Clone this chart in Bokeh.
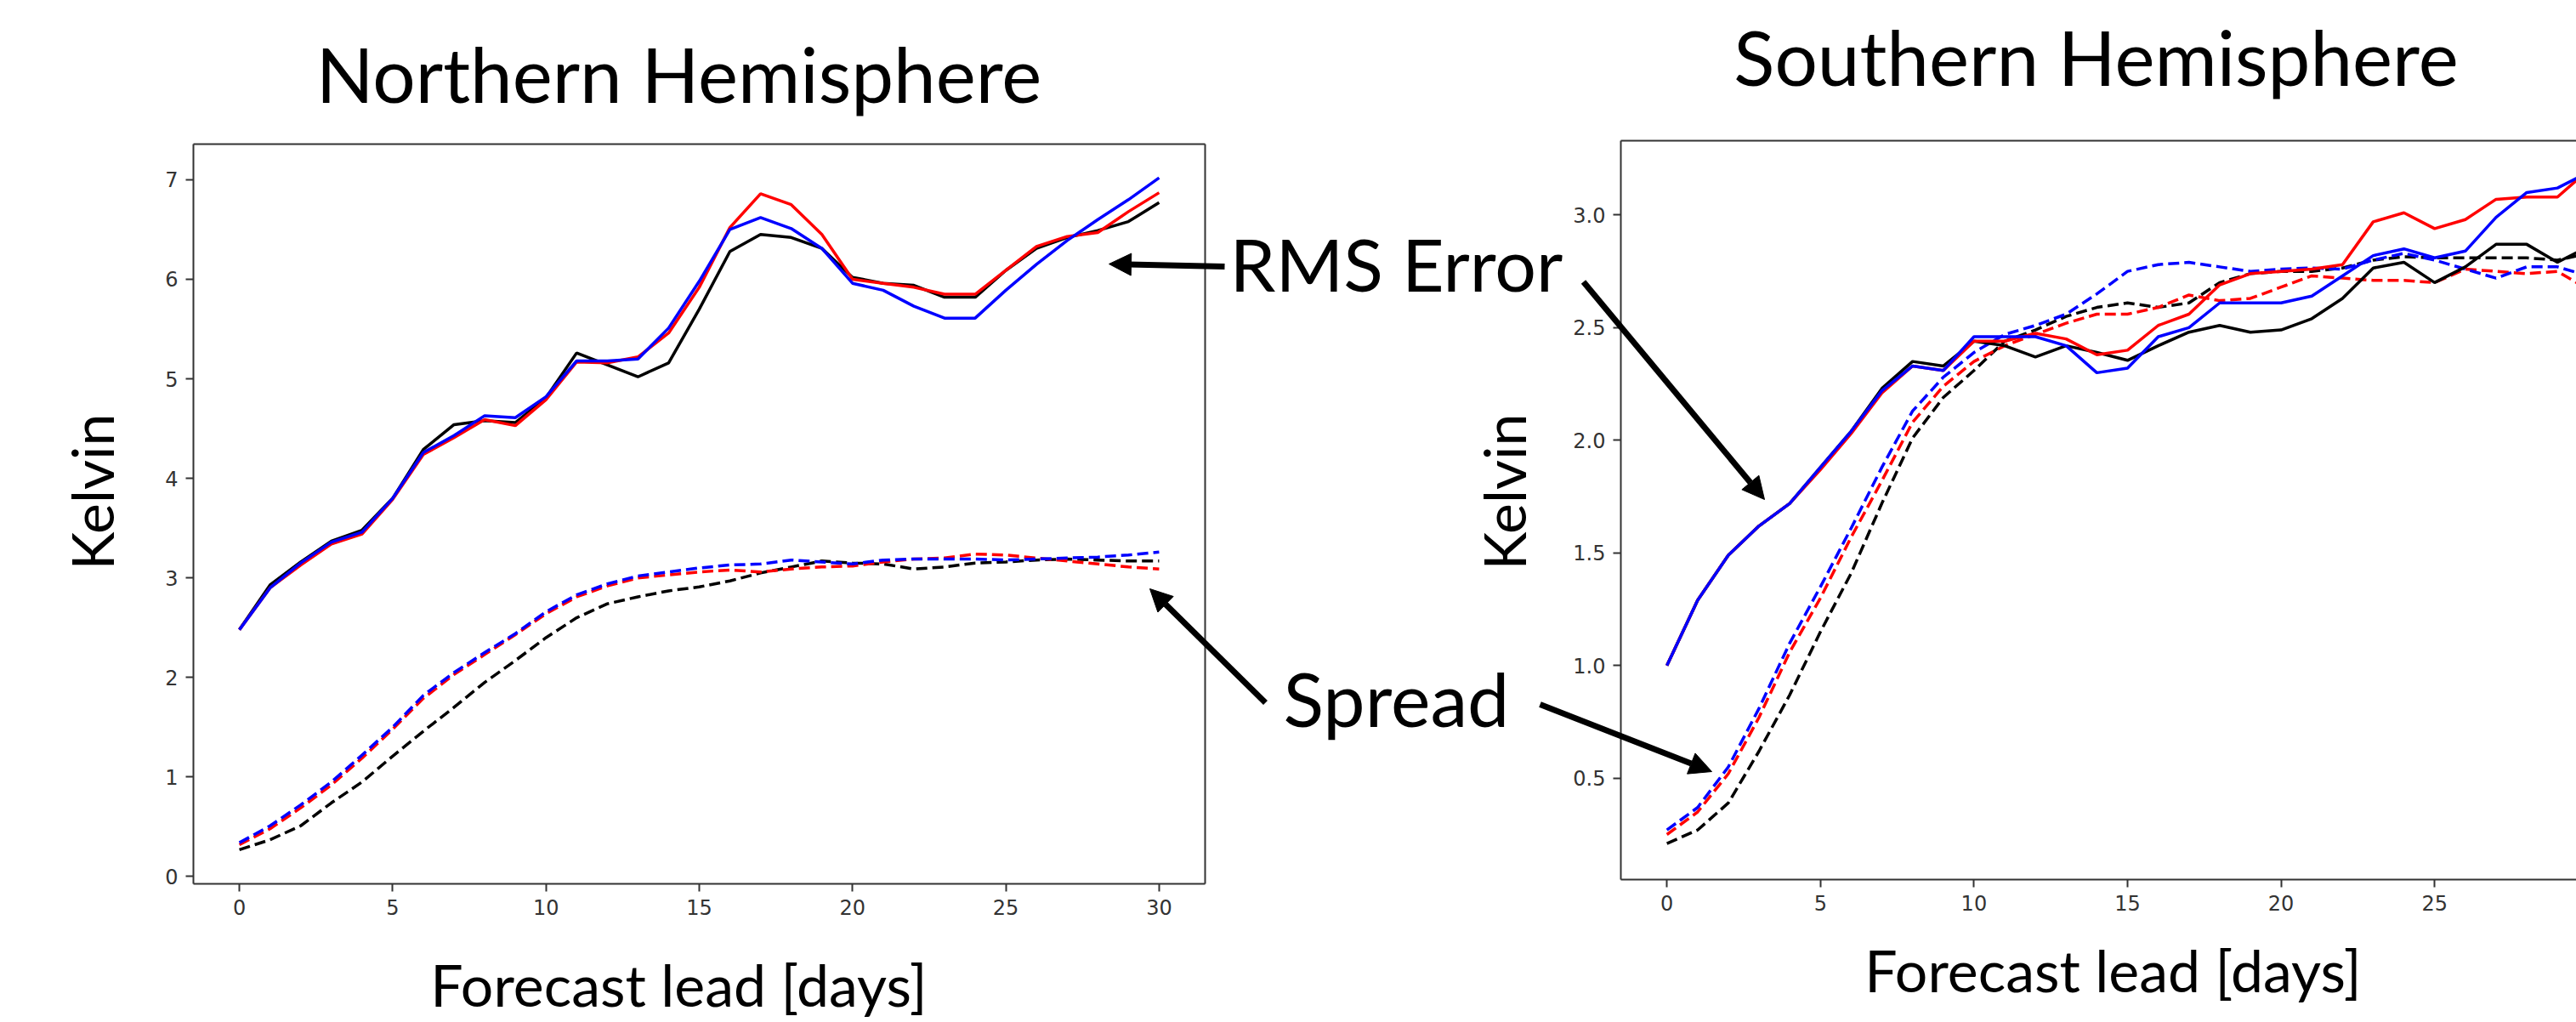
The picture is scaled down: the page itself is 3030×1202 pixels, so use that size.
import math
from bokeh.plotting import figure
from bokeh.models import (Label, Arrow, NormalHead, FixedTicker, LinearAxis, Range1d,
                          PrintfTickFormatter)
from bokeh.embed import file_html
from bokeh.resources import INLINE

# ---------------- data ----------------
days = list(range(31))

# Northern Hemisphere
nh_rms_black = [2.48, 2.93, 3.16, 3.37, 3.48, 3.80, 4.29, 4.54, 4.58, 4.56, 4.81, 5.26, 5.14, 5.02, 5.16, 5.70,
                6.28, 6.45, 6.42, 6.31, 6.02, 5.96, 5.94, 5.82, 5.82, 6.09, 6.31, 6.42, 6.49, 6.58, 6.77]
nh_rms_red = [2.48, 2.90, 3.13, 3.34, 3.44, 3.79, 4.24, 4.41, 4.59, 4.53, 4.79, 5.17, 5.16, 5.22, 5.46, 5.92,
              6.52, 6.86, 6.75, 6.45, 6.00, 5.96, 5.92, 5.85, 5.85, 6.09, 6.33, 6.43, 6.47, 6.68, 6.87]
nh_rms_blue = [2.48, 2.90, 3.15, 3.36, 3.46, 3.80, 4.26, 4.43, 4.63, 4.61, 4.82, 5.18, 5.18, 5.20, 5.51, 5.98,
               6.50, 6.62, 6.51, 6.31, 5.96, 5.89, 5.73, 5.61, 5.61, 5.89, 6.15, 6.39, 6.60, 6.80, 7.02]
nh_spread_black = [0.27, 0.37, 0.51, 0.74, 0.95, 1.21, 1.46, 1.70, 1.95, 2.17, 2.40, 2.60, 2.74, 2.81, 2.87, 2.91,
                   2.97, 3.05, 3.11, 3.17, 3.15, 3.14, 3.09, 3.11, 3.15, 3.16, 3.18, 3.19, 3.18, 3.17, 3.17]
nh_spread_red = [0.32, 0.48, 0.69, 0.92, 1.19, 1.48, 1.79, 2.03, 2.23, 2.43, 2.64, 2.81, 2.92, 3.00, 3.03, 3.06,
                 3.08, 3.06, 3.09, 3.11, 3.12, 3.16, 3.19, 3.20, 3.24, 3.23, 3.20, 3.17, 3.14, 3.11, 3.09]
nh_spread_blue = [0.34, 0.51, 0.72, 0.95, 1.22, 1.50, 1.82, 2.05, 2.25, 2.44, 2.66, 2.83, 2.94, 3.02, 3.06, 3.10,
                  3.13, 3.14, 3.18, 3.16, 3.14, 3.18, 3.19, 3.19, 3.19, 3.18, 3.19, 3.20, 3.21, 3.23, 3.26]

# Southern Hemisphere
sh_rms_black = [1.00, 1.29, 1.49, 1.62, 1.72, 1.88, 2.04, 2.23, 2.35, 2.33, 2.44, 2.42, 2.37, 2.42, 2.39, 2.355,
                2.42, 2.48, 2.51, 2.48, 2.49, 2.54, 2.63, 2.765, 2.79, 2.70, 2.77, 2.87, 2.87, 2.79, 2.86]
sh_rms_red = [1.00, 1.29, 1.49, 1.62, 1.72, 1.87, 2.03, 2.21, 2.33, 2.31, 2.44, 2.44, 2.475, 2.45, 2.38, 2.40,
              2.51, 2.56, 2.69, 2.74, 2.75, 2.76, 2.78, 2.97, 3.01, 2.94, 2.98, 3.07, 3.08, 3.08, 3.20]
sh_rms_blue = [1.00, 1.29, 1.49, 1.62, 1.72, 1.88, 2.04, 2.22, 2.33, 2.31, 2.46, 2.46, 2.46, 2.42, 2.30, 2.32,
               2.46, 2.50, 2.61, 2.61, 2.61, 2.64, 2.73, 2.82, 2.85, 2.81, 2.84, 2.99, 3.10, 3.12, 3.19]
sh_spread_black = [0.21, 0.27, 0.39, 0.62, 0.87, 1.15, 1.41, 1.72, 2.01, 2.19, 2.31, 2.44, 2.49, 2.55, 2.59, 2.61,
                   2.59, 2.61, 2.70, 2.74, 2.75, 2.75, 2.765, 2.80, 2.815, 2.81, 2.81, 2.81, 2.81, 2.80, 2.83]
sh_spread_red = [0.25, 0.35, 0.52, 0.77, 1.06, 1.30, 1.57, 1.82, 2.08, 2.24, 2.35, 2.42, 2.47, 2.52, 2.56, 2.56,
                 2.59, 2.645, 2.62, 2.63, 2.68, 2.73, 2.72, 2.71, 2.71, 2.70, 2.76, 2.75, 2.74, 2.75, 2.67]
sh_spread_blue = [0.27, 0.37, 0.55, 0.81, 1.10, 1.35, 1.61, 1.88, 2.13, 2.28, 2.39, 2.47, 2.51, 2.56, 2.65, 2.75,
                  2.78, 2.79, 2.77, 2.75, 2.76, 2.765, 2.76, 2.80, 2.83, 2.80, 2.76, 2.72, 2.77, 2.77, 2.73]

nh_x_ticks = [0, 5, 10, 15, 20, 25, 30]
sh_x_ticks = [0, 5, 10, 15, 20, 25]
nh_y_ticks = [0, 1, 2, 3, 4, 5, 6, 7]
sh_y_ticks = [0.5, 1.0, 1.5, 2.0, 2.5, 3.0]

# ---------------- layout constants (pixels from top-left of the page) ----------------
W, H = 3030, 1202
BIG_FONT = "Lato"
AX_COLOR = "#333333"
LW = 3.5
DASH = "13 6"

# panel boxes: (left px, right px, top px, bottom px) and their data limits
NH_BOX = (227, 1417, 169, 1039)
NH_LIM = (-1.5, 31.5, -0.073, 7.358)
SH_BOX = (1906, 3098, 165, 1034)
SH_LIM = (-1.5, 31.5, 0.05, 3.33)


def x_range_for(box, lim):
    l_px, r_px = box[0], box[1]
    x0, x1 = lim[0], lim[1]
    s = (x1 - x0) / (r_px - l_px)
    return Range1d(x0 - l_px * s, x0 + (W - l_px) * s)


def y_range_for(box, lim):
    t_px, b_px = box[2], box[3]
    y0, y1 = lim[2], lim[3]
    s = (y1 - y0) / (b_px - t_px)
    return Range1d(y1 - (H - t_px) * s, y1 + t_px * s)


p = figure(width=W, height=H, x_range=Range1d(0, W), y_range=Range1d(H, 0),
           x_axis_type=None, y_axis_type=None, output_backend="svg", toolbar_location=None,
           min_border=0)
p.outline_line_color = None
p.extra_x_ranges = {"nh_x": x_range_for(NH_BOX, NH_LIM), "sh_x": x_range_for(SH_BOX, SH_LIM)}
p.extra_y_ranges = {"nh_y": y_range_for(NH_BOX, NH_LIM), "sh_y": y_range_for(SH_BOX, SH_LIM)}


def style_axis(ax, ticks=True):
    ax.axis_line_color = AX_COLOR
    ax.axis_line_width = 2
    ax.major_tick_line_color = AX_COLOR if ticks else None
    ax.major_tick_line_width = 2
    ax.major_tick_out = 9
    ax.major_tick_in = 0
    ax.minor_tick_line_color = None
    ax.major_label_text_font = "DejaVu Sans"
    ax.major_label_text_font_size = "24px"
    ax.major_label_text_color = AX_COLOR
    ax.major_label_standoff = 9


def add_frame(xr, yr, lim, xt, yt, right_edge=True, y_fmt=None):
    x0, x1, y0, y1 = lim
    kw = dict(x_range_name=xr, y_range_name=yr)
    bottom = LinearAxis(fixed_location=y0, bounds=(x0, x1), ticker=FixedTicker(ticks=xt), **kw)
    left = LinearAxis(fixed_location=x0, bounds=(y0, y1), ticker=FixedTicker(ticks=yt), **kw)
    if y_fmt:
        left.formatter = PrintfTickFormatter(format=y_fmt)
    top = LinearAxis(fixed_location=y1, bounds=(x0, x1), ticker=FixedTicker(ticks=[]), **kw)
    style_axis(bottom)
    style_axis(left)
    style_axis(top, ticks=False)
    p.add_layout(bottom, "below")
    p.add_layout(left, "left")
    p.add_layout(top, "above")
    if right_edge:
        right = LinearAxis(fixed_location=x1, bounds=(y0, y1), ticker=FixedTicker(ticks=[]), **kw)
        style_axis(right, ticks=False)
        p.add_layout(right, "right")


def draw_lines(xr, yr, rb, rr, rbl, sb, sr, sbl):
    kw = dict(x_range_name=xr, y_range_name=yr, line_width=LW)
    p.line(days, sb, color="black", line_dash=DASH, **kw)
    p.line(days, sr, color="red", line_dash=DASH, **kw)
    p.line(days, sbl, color="blue", line_dash=DASH, **kw)
    p.line(days, rb, color="black", **kw)
    p.line(days, rr, color="red", **kw)
    p.line(days, rbl, color="blue", **kw)


def add_label(x, y, text, size, angle=0.0):
    p.add_layout(Label(x=x, y=y, text=text, text_font=BIG_FONT, text_font_size=size,
                       text_color="black", text_align="center", text_baseline="alphabetic",
                       angle=angle))


def add_arrow(x0, y0, x1, y1):
    p.add_layout(Arrow(x_start=x0, y_start=y0, x_end=x1, y_end=y1, line_color="black", line_width=7,
                       end=NormalHead(size=26, fill_color="black", line_color="black", line_width=1)))


add_frame("nh_x", "nh_y", NH_LIM, nh_x_ticks, nh_y_ticks, right_edge=True)
add_frame("sh_x", "sh_y", SH_LIM, sh_x_ticks, sh_y_ticks, right_edge=False, y_fmt="%.1f")

draw_lines("nh_x", "nh_y", nh_rms_black, nh_rms_red, nh_rms_blue, nh_spread_black, nh_spread_red, nh_spread_blue)
draw_lines("sh_x", "sh_y", sh_rms_black, sh_rms_red, sh_rms_blue, sh_spread_black, sh_spread_red, sh_spread_blue)

# texts
add_label(798, 86, "Northern Hemisphere", "89px")
add_label(2465, 66, "Southern Hemisphere", "89px")
add_label(107, 578, "Kelvin", "68px", angle=math.pi / 2)
add_label(1768, 578, "Kelvin", "68px", angle=math.pi / 2)
add_label(798, 1157, "Forecast lead [days]", "68px")
add_label(2485, 1140, "Forecast lead [days]", "68px")
add_label(1642, 309, "RMS Error", "86px")
add_label(1642, 820, "Spread", "88px")

# arrows
add_arrow(1440, 313, 1304, 310)
add_arrow(1488, 826, 1352, 692)
add_arrow(1862, 331, 2075, 587)
add_arrow(1811, 828, 2013, 907)

open("out.html", "w").write(file_html(p, INLINE))
